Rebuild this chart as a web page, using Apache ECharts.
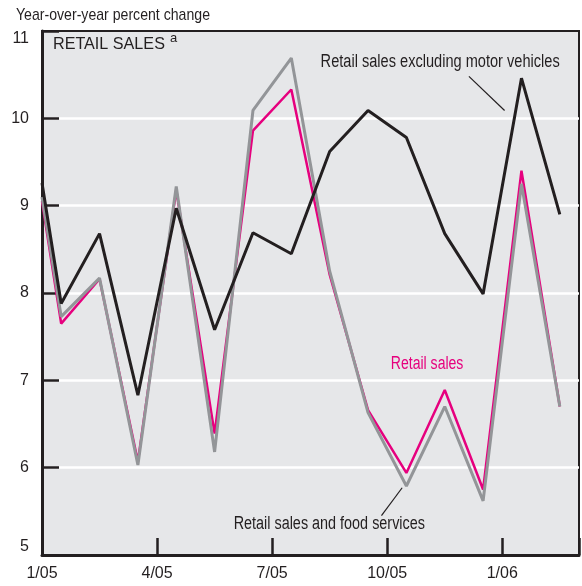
<!DOCTYPE html>
<html>
<head>
<meta charset="utf-8">
<script src="https://cdn.jsdelivr.net/npm/echarts@6/dist/echarts.min.js"></script>
<style>
html,body{margin:0;padding:0;background:#fff;}
#chart{width:582px;height:586px;}
</style>
</head>
<body>
<div id="chart"></div>
<script>
// Month positions (0 = start of Jan 2005; points plotted mid-month)
const monthPos = [0, 0.5, 1.5, 2.5, 3.5, 4.5, 5.5, 6.5, 7.5, 8.5, 9.5, 10.5, 11.5, 12.5, 13.5];
const tickLabels = {0: '1/05', 3: '4/05', 6: '7/05', 9: '10/05', 12: '1/06'};
const yTicks = [5, 6, 7, 8, 9, 10, 11];

const exclMotor = [9.26, 7.88, 8.68, 6.83, 8.97, 7.58, 8.69, 8.45, 9.62, 10.09, 9.78, 8.68, 7.99, 10.46, 8.90];
const retailSales = [9.05, 7.65, 8.16, 6.07, 9.18, 6.39, 9.86, 10.33, 8.21, 6.66, 5.94, 6.89, 5.75, 9.40, 6.70];
const retailFood = [9.10, 7.73, 8.17, 6.03, 9.22, 6.18, 10.09, 10.69, 8.25, 6.63, 5.79, 6.70, 5.62, 9.25, 6.70];

const FONT = '"Liberation Sans", Arial, Helvetica, sans-serif';
const DARK = '#231f20';
const PINK = '#e6007e';
const GRAY = '#939598';

function pairs(vals) { return vals.map((v, i) => [monthPos[i], v]); }

const chart = echarts.init(document.getElementById('chart'));
const option = {
  animation: false,
  backgroundColor: '#ffffff',
  grid: {
    left: 42, right: 2, top: 31, bottom: 31,
    show: true, backgroundColor: '#e6e7e9', borderColor: DARK, borderWidth: 2
  },
  xAxis: {
    type: 'value', min: 0, max: 14, interval: 3,
    axisLine: {show: true, lineStyle: {color: DARK, width: 3}},
    axisTick: {show: true, inside: true, length: 17, lineStyle: {color: DARK, width: 2.5}},
    splitLine: {show: false},
    axisLabel: {
      color: DARK, fontFamily: FONT, fontSize: 16, margin: 11,
      formatter: v => tickLabels[v] || ''
    }
  },
  yAxis: {
    type: 'value', min: 5, max: 11, interval: 1,
    axisLine: {show: true, lineStyle: {color: DARK, width: 3}},
    axisTick: {show: true, inside: true, length: 17, lineStyle: {color: DARK, width: 2.5}},
    splitLine: {show: true, showMinLine: false, showMaxLine: false, lineStyle: {color: '#ffffff', width: 2.5}},
    axisLabel: {
      color: DARK, fontFamily: FONT, fontSize: 16, margin: 13,
      formatter: v => v === yTicks[yTicks.length - 1] ? '{t|' + v + '}' : (v === yTicks[0] ? '{b|' + v + '}' : String(v)),
      rich: {
        t: {fontFamily: FONT, fontSize: 16, color: DARK, padding: [16, 0, 0, 0]},
        b: {fontFamily: FONT, fontSize: 16, color: DARK, padding: [0, 0, 16, 0]}
      }
    }
  },
  series: [
    {name: 'Retail sales', type: 'line', data: pairs(retailSales), symbol: 'none', clip: true,
     lineStyle: {color: PINK, width: 2.5}, z: 2},
    {name: 'Retail sales and food services', type: 'line', data: pairs(retailFood), symbol: 'none', clip: true,
     lineStyle: {color: GRAY, width: 3}, z: 3},
    {name: 'Retail sales excluding motor vehicles', type: 'line', data: pairs(exclMotor), symbol: 'none', clip: true,
     lineStyle: {color: DARK, width: 3}, z: 4}
  ]
};
chart.setOption(option);

// Annotations positioned in data coordinates
const notes = [
  {text: 'Retail sales excluding motor vehicles', at: [10.38, 10.64], color: DARK, sx: 0.81},
  {text: 'Retail sales', at: [10.04, 7.19], color: PINK, sx: 0.78},
  {text: 'Retail sales and food services', at: [7.49, 5.35], color: DARK, sx: 0.80}
];
const leaders = [
  [[11.13, 10.48], [12.06, 10.09]],
  [[8.85, 5.45], [9.39, 5.77]]
];
const px = p => chart.convertToPixel({gridIndex: 0}, p);
const graphics = [
  {type: 'text', x: 16, y: 15, z: 10, scaleX: 0.83,
   style: {text: 'Year-over-year percent change', fill: DARK, font: '17px ' + FONT, align: 'left', verticalAlign: 'middle'}},
  {type: 'text', x: 53, y: 44, z: 10, scaleX: 0.95,
   style: {text: 'RETAIL SALES', fill: DARK, font: '17px ' + FONT, align: 'left', verticalAlign: 'middle'}},
  {type: 'text', x: 170, y: 38, z: 10,
   style: {text: 'a', fill: DARK, font: '13px ' + FONT, align: 'left', verticalAlign: 'middle'}}
];
notes.forEach(n => {
  const p = px(n.at);
  graphics.push({type: 'text', x: p[0], y: p[1], z: 10, scaleX: n.sx,
    style: {text: n.text, fill: n.color, font: '18px ' + FONT, align: 'center', verticalAlign: 'middle'}});
});
leaders.forEach(l => {
  const a = px(l[0]), b = px(l[1]);
  graphics.push({type: 'line', z: 10, shape: {x1: a[0], y1: a[1], x2: b[0], y2: b[1]},
    style: {stroke: DARK, lineWidth: 1.2}});
});
chart.setOption({graphic: graphics});
</script>
</body>
</html>
